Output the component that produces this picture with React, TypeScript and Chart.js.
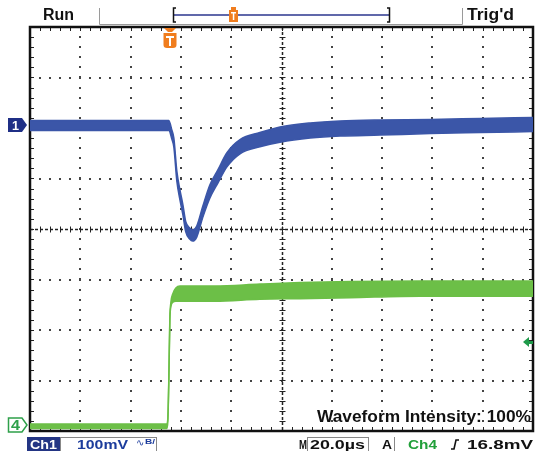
import React, { useEffect, useRef } from "react";
import { Chart, registerables } from "chart.js";
Chart.register(...registerables);

// ---- data (time in µs, amplitude in divisions) ----
const timeBlue = [0, 55.2, 56.4, 57.2, 58.4, 59.6, 60.8, 61.9, 63.5, 64.7, 66.3, 68.7, 71.5, 74.7, 78.3, 83.5, 91.4, 99.4, 111.4, 123.3, 139.2, 159.2, 179.1, 200];
const blueUpper = [2.15, 2.15, 1.96, 1.80, 1.14, 0.78, 0.48, 0.15, 0.02, -0.02, 0.06, 0.45, 0.87, 1.17, 1.51, 1.77, 1.91, 2.02, 2.10, 2.14, 2.16, 2.17, 2.19, 2.21];
const blueLower = [1.95, 1.95, 1.78, 1.62, 0.94, 0.58, 0.28, -0.05, -0.20, -0.24, -0.16, 0.23, 0.61, 0.91, 1.23, 1.49, 1.63, 1.72, 1.80, 1.84, 1.86, 1.89, 1.91, 1.93];

const timeGreen = [0, 54.4, 54.8, 55.2, 55.6, 56.0, 56.8, 58.0, 59.6, 73.5, 91.4, 107.4, 127.3, 155.2, 200];
const greenUpper = [-3.86, -3.86, -3.75, -2.95, -1.77, -1.46, -1.28, -1.17, -1.13, -1.13, -1.09, -1.06, -1.04, -1.03, -1.03];
const greenLower = [-3.95, -3.95, -3.81, -3.01, -1.83, -1.54, -1.45, -1.43, -1.43, -1.43, -1.39, -1.38, -1.36, -1.33, -1.33];

const timeMin = 0;
const timeMax = 200;
const timePerDiv = 20;
const divMin = -4;
const divMax = 4;
const triggerTime = 55.6;
const ch1Offset = 2.05;
const ch4Offset = -3.88;
const triggerLevel = -2.23;

const statusLeft = "Run";
const statusRight = "Trig'd";
const intensityLabel = "Waveform Intensity: 100%";
const ch1Label = "Ch1";
const ch1Scale = "100mV";
const timebaseLabel = "20.0µs";
const triggerSource = "Ch4";
const triggerValue = "16.8mV";

const BLUE = "#3b56a8";
const GREEN = "#6cbf47";
const ORANGE = "#f07d1e";
const FONT = '"Liberation Sans", Arial, sans-serif';

function fitText(ctx: CanvasRenderingContext2D, text: string, x: number, base: number, w: number, size: number, color: string, weight = "bold") {
  ctx.save();
  ctx.font = `${weight} ${size}px ${FONT}`;
  ctx.fillStyle = color;
  ctx.textAlign = "left";
  ctx.textBaseline = "alphabetic";
  const m = ctx.measureText(text).width || 1;
  ctx.translate(x, base);
  ctx.scale(w / m, 1);
  ctx.fillText(text, 0, 0);
  ctx.restore();
}

const graticule = {
  id: "graticule",
  beforeDatasetsDraw(chart: any) {
    const { ctx, chartArea: a, scales } = chart;
    const x = scales.x, y = scales.y;
    ctx.save();
    ctx.fillStyle = "#444";
    const sub = 5;
    const xStep = timePerDiv / sub;
    const yStep = 1 / sub;
    for (let t = timeMin + timePerDiv; t < timeMax; t += timePerDiv) {
      if (Math.abs(t - (timeMin + timeMax) / 2) < 1e-6) continue;
      const px = Math.round(x.getPixelForValue(t));
      for (let v = divMin + yStep; v < divMax - 1e-6; v += yStep) {
        const py = Math.round(y.getPixelForValue(v));
        ctx.fillRect(px - 1, py - 1, 2, 2);
      }
    }
    for (let v = divMin + 1; v < divMax; v += 1) {
      if (Math.abs(v) < 1e-6) continue;
      const py = Math.round(y.getPixelForValue(v));
      for (let t = timeMin + xStep; t < timeMax - 1e-6; t += xStep) {
        const px = Math.round(x.getPixelForValue(t));
        ctx.fillRect(px - 1, py - 1, 2, 2);
      }
    }
    const cx = Math.round(x.getPixelForValue((timeMin + timeMax) / 2)) + 0.5;
    const cy = Math.round(y.getPixelForValue(0)) + 0.5;
    ctx.strokeStyle = "#222";
    ctx.lineWidth = 1.5;
    ctx.setLineDash([3, 2]);
    ctx.beginPath();
    ctx.moveTo(cx, a.top); ctx.lineTo(cx, a.bottom);
    ctx.moveTo(a.left, cy); ctx.lineTo(a.right, cy);
    ctx.stroke();
    ctx.setLineDash([]);
    ctx.lineWidth = 1;
    ctx.beginPath();
    for (let v = divMin + yStep; v < divMax - 1e-6; v += yStep) {
      const py = Math.round(y.getPixelForValue(v)) + 0.5;
      ctx.moveTo(cx - 3, py); ctx.lineTo(cx + 3, py);
    }
    for (let t = timeMin + xStep; t < timeMax - 1e-6; t += xStep) {
      const px = Math.round(x.getPixelForValue(t)) + 0.5;
      ctx.moveTo(px, cy - 3); ctx.lineTo(px, cy + 3);
    }
    ctx.stroke();
    ctx.beginPath();
    for (let t = timeMin + xStep; t < timeMax - 1e-6; t += xStep) {
      const px = Math.round(x.getPixelForValue(t)) + 0.5;
      ctx.moveTo(px, a.top); ctx.lineTo(px, a.top + 4);
      ctx.moveTo(px, a.bottom); ctx.lineTo(px, a.bottom - 4);
    }
    for (let v = divMin + yStep; v < divMax - 1e-6; v += yStep) {
      const py = Math.round(y.getPixelForValue(v)) + 0.5;
      ctx.moveTo(a.left, py); ctx.lineTo(a.left + 4, py);
      ctx.moveTo(a.right, py); ctx.lineTo(a.right - 4, py);
    }
    ctx.stroke();
    ctx.lineWidth = 2.5;
    ctx.strokeStyle = "#111";
    ctx.strokeRect(a.left, a.top, a.width, a.height);
    ctx.restore();
  },
};

const overlay = {
  id: "overlay",
  afterDraw(chart: any) {
    const { ctx, chartArea: a, scales } = chart;
    const x = scales.x, y = scales.y;
    ctx.save();
    ctx.strokeStyle = "#9a9a9a";
    ctx.lineWidth = 1;
    ctx.beginPath();
    ctx.moveTo(99.5, 8); ctx.lineTo(99.5, 24.5); ctx.lineTo(462.5, 24.5); ctx.lineTo(462.5, 8);
    ctx.stroke();
    fitText(ctx, statusLeft, 43, 20, 31, 16, "#111");
    fitText(ctx, statusRight, 467, 20, 47, 17, "#111");
    ctx.strokeStyle = "#6068aa";
    ctx.lineWidth = 2;
    ctx.beginPath(); ctx.moveTo(174, 15); ctx.lineTo(389, 15); ctx.stroke();
    ctx.strokeStyle = "#111";
    ctx.lineWidth = 1.5;
    ctx.beginPath();
    ctx.moveTo(176, 8); ctx.lineTo(173.5, 8); ctx.lineTo(173.5, 22); ctx.lineTo(176, 22);
    ctx.moveTo(387, 8); ctx.lineTo(389.5, 8); ctx.lineTo(389.5, 22); ctx.lineTo(387, 22);
    ctx.stroke();
    ctx.fillStyle = ORANGE;
    ctx.fillRect(231, 7, 5, 3);
    ctx.fillRect(229, 10, 9, 12);
    ctx.fillStyle = "#fff";
    ctx.fillRect(231, 12, 5, 1.5);
    ctx.fillRect(232.8, 12, 1.5, 8);
    const tx = Math.round(x.getPixelForValue(triggerTime));
    ctx.fillStyle = ORANGE;
    ctx.beginPath();
    ctx.moveTo(tx - 6, a.top + 1); ctx.lineTo(tx + 6, a.top + 1); ctx.lineTo(tx + 2, a.top + 5); ctx.lineTo(tx - 2, a.top + 5);
    ctx.closePath(); ctx.fill();
    ctx.beginPath();
    ctx.moveTo(tx - 6.5, a.top + 6);
    ctx.lineTo(tx + 6.5, a.top + 6);
    ctx.lineTo(tx + 6.5, a.top + 18);
    ctx.quadraticCurveTo(tx + 6.5, a.top + 21, tx + 3, a.top + 21);
    ctx.lineTo(tx - 3, a.top + 21);
    ctx.quadraticCurveTo(tx - 6.5, a.top + 21, tx - 6.5, a.top + 18);
    ctx.closePath(); ctx.fill();
    ctx.fillStyle = "#fff";
    ctx.fillRect(tx - 4, a.top + 9, 8, 2);
    ctx.fillRect(tx - 1, a.top + 9, 2, 10);
    const c1 = Math.round(y.getPixelForValue(ch1Offset));
    ctx.fillStyle = "#1f2f86";
    ctx.beginPath();
    ctx.moveTo(8, c1 - 7); ctx.lineTo(22, c1 - 7); ctx.lineTo(27, c1); ctx.lineTo(22, c1 + 7); ctx.lineTo(8, c1 + 7);
    ctx.closePath(); ctx.fill();
    fitText(ctx, "1", 12, c1 + 5, 7, 13, "#fff");
    const c4 = Math.round(y.getPixelForValue(ch4Offset));
    ctx.fillStyle = "#fff";
    ctx.strokeStyle = "#2ea04a";
    ctx.lineWidth = 1.5;
    ctx.beginPath();
    ctx.moveTo(8.5, c4 - 7); ctx.lineTo(22, c4 - 7); ctx.lineTo(27, c4); ctx.lineTo(22, c4 + 7); ctx.lineTo(8.5, c4 + 7);
    ctx.closePath(); ctx.fill(); ctx.stroke();
    fitText(ctx, "4", 11, c4 + 5, 9, 14, "#2ea04a");
    const tl = Math.round(y.getPixelForValue(triggerLevel));
    ctx.fillStyle = "#1f9a4a";
    ctx.beginPath();
    ctx.moveTo(a.right - 10, tl); ctx.lineTo(a.right - 4, tl - 5); ctx.lineTo(a.right - 4, tl + 5);
    ctx.closePath(); ctx.fill();
    ctx.fillRect(a.right - 5, tl - 1, 5, 3);
    fitText(ctx, intensityLabel, 317, 422, 214, 17, "#111");
    ctx.fillStyle = "#233584";
    ctx.fillRect(27, 437, 33, 14);
    fitText(ctx, ch1Label, 30, 449, 27, 13, "#fff");
    ctx.strokeStyle = "#888";
    ctx.lineWidth = 1;
    ctx.strokeRect(60.5, 437.5, 96, 14);
    fitText(ctx, ch1Scale, 77, 449, 51, 13, "#1c3c9c");
    fitText(ctx, "∿", 136, 446, 8, 10, "#1c3c9c", "normal");
    fitText(ctx, "B/", 145, 444, 10, 8, "#1c3c9c");
    fitText(ctx, "M", 299, 449, 8, 13, "#111");
    ctx.strokeRect(307.5, 437.5, 61, 14);
    fitText(ctx, timebaseLabel, 310, 449, 55, 13, "#111");
    fitText(ctx, "A", 382, 449, 10, 13, "#111");
    ctx.beginPath(); ctx.moveTo(394.5, 437); ctx.lineTo(394.5, 451); ctx.stroke();
    fitText(ctx, triggerSource, 408, 449, 29, 13, "#22a03a");
    ctx.strokeStyle = "#111";
    ctx.lineWidth = 1.6;
    ctx.beginPath();
    ctx.moveTo(451, 449); ctx.lineTo(454, 449); ctx.lineTo(456, 440); ctx.lineTo(459, 440);
    ctx.stroke();
    fitText(ctx, triggerValue, 467, 449, 66, 13, "#111");
    ctx.restore();
  },
};

export default function App() {
  const ref = useRef<HTMLCanvasElement | null>(null);
  useEffect(() => {
    if (!ref.current) return;
    const pts = (t: number[], v: number[]) => t.map((tt, i) => ({ x: tt, y: v[i] }));
    const chart = new Chart(ref.current, {
      type: "line",
      data: {
        datasets: [
          { data: pts(timeBlue, blueUpper), borderColor: BLUE, borderWidth: 1.5, pointRadius: 0, fill: false, cubicInterpolationMode: "monotone" },
          { data: pts(timeBlue, blueLower), borderColor: BLUE, borderWidth: 1.5, pointRadius: 0, fill: "-1", backgroundColor: BLUE, cubicInterpolationMode: "monotone" },
          { data: pts(timeGreen, greenUpper), borderColor: GREEN, borderWidth: 1.5, pointRadius: 0, fill: false, cubicInterpolationMode: "monotone" },
          { data: pts(timeGreen, greenLower), borderColor: GREEN, borderWidth: 1.5, pointRadius: 0, fill: "-1", backgroundColor: GREEN, cubicInterpolationMode: "monotone" },
        ],
      } as any,
      options: {
        responsive: false,
        animation: false,
        devicePixelRatio: 1,
        layout: { padding: { left: 30, right: 4, top: 27, bottom: 20 } },
        scales: {
          x: { type: "linear", min: timeMin, max: timeMax, display: false },
          y: { type: "linear", min: divMin, max: divMax, display: false },
        },
        plugins: { legend: { display: false }, tooltip: { enabled: false } },
      } as any,
      plugins: [graticule, overlay],
    });
    return () => chart.destroy();
  }, []);
  return (
    <div style={{ position: "absolute", left: 0, top: 0, width: 537, height: 451, background: "#fff" }}>
      <canvas ref={ref} width={537} height={451} style={{ width: 537, height: 451, display: "block" }} />
    </div>
  );
}
